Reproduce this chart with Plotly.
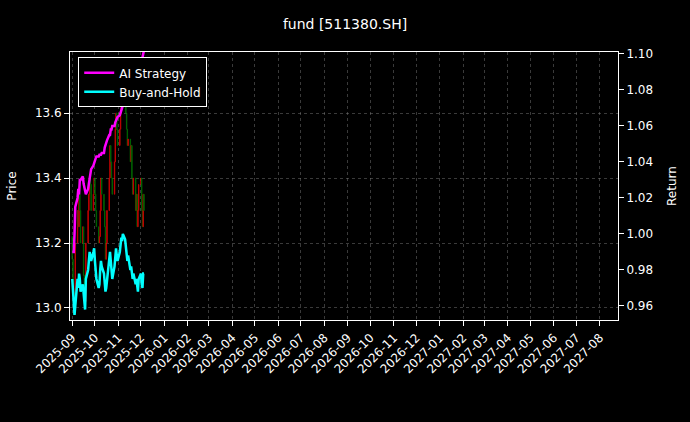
import pandas as pd
import plotly.graph_objects as go

dates = pd.bdate_range("2025-09-01", "2025-12-05")

close = [13.15, 13.05, 12.98, 13.0, 13.2, 13.3, 13.25, 13.35, 13.3, 13.2, 13.25, 13.1, 13.05, 13.02, 13.2, 13.3, 13.35, 13.4, 13.38, 13.3, 13.35, 13.4,
         13.35, 13.3, 13.25, 13.2, 13.22, 13.3, 13.4, 13.35, 13.3, 13.25, 13.15, 13.2, 13.3, 13.4, 13.5, 13.45, 13.4, 13.35, 13.45, 13.55, 13.6, 13.55, 13.5,
         13.55, 13.6, 13.65, 13.62, 13.7, 13.65, 13.6, 13.55, 13.5, 13.52, 13.45, 13.5, 13.4, 13.35, 13.4, 13.3, 13.35, 13.25, 13.3, 13.38,
         13.4, 13.3, 13.25, 13.35, 13.3]
open_ = [13.22] + close[:-1]
high = [max(o, c) for o, c in zip(open_, close)]
low = [min(o, c) for o, c in zip(open_, close)]

strategy = [0.99, 0.99, 0.99, 1.00, 1.015, 1.02, 1.025, 1.022, 1.03, 1.03, 1.032, 1.028, 1.025, 1.024, 1.022, 1.025, 1.028, 1.032, 1.035, 1.036, 1.038, 1.04,
            1.041, 1.042, 1.043, 1.043, 1.044, 1.044, 1.044, 1.045, 1.045, 1.048, 1.05, 1.05, 1.052, 1.055, 1.055, 1.058, 1.058, 1.06, 1.06, 1.062, 1.063, 1.064, 1.065,
            1.066, 1.068, 1.068, 1.07, 1.072, 1.073, 1.075, 1.076, 1.078, 1.078, 1.08, 1.082, 1.08, 1.083, 1.085, 1.087, 1.088, 1.09, 1.092, 1.093,
            1.094, 1.096, 1.098, 1.1, 1.102]
buyhold = [0.975, 0.965, 0.956, 0.955, 0.96, 0.975, 0.97, 0.978, 0.975, 0.968, 0.972, 0.965, 0.96, 0.958, 0.975, 0.98, 0.985, 0.99, 0.988, 0.985, 0.99, 0.992,
           0.985, 0.98, 0.975, 0.97, 0.972, 0.98, 0.985, 0.982, 0.978, 0.973, 0.968, 0.97, 0.975, 0.985, 0.99, 0.985, 0.98, 0.975, 0.982, 0.99, 0.992, 0.988, 0.985,
           0.99, 0.993, 0.998, 0.996, 1.0, 0.997, 0.993, 0.99, 0.985, 0.988, 0.98, 0.982, 0.977, 0.975, 0.978, 0.972, 0.975, 0.97, 0.968, 0.975,
           0.978, 0.972, 0.97, 0.978, 0.978]

fig = go.Figure()
fig.add_trace(go.Candlestick(x=dates, open=open_, high=high, low=low, close=close,
                             increasing=dict(line=dict(color="red", width=1), fillcolor="red"),
                             decreasing=dict(line=dict(color="green", width=1), fillcolor="green"),
                             opacity=0.75, showlegend=False))
fig.add_trace(go.Scatter(x=dates, y=strategy, name="AI Strategy", yaxis="y2",
                         line=dict(color="magenta", width=2.5)))
fig.add_trace(go.Scatter(x=dates, y=buyhold, name="Buy-and-Hold", yaxis="y2",
                         line=dict(color="cyan", width=2.5)))

ticks = pd.date_range("2025-09-01", "2027-08-01", freq="MS")
grid = dict(showgrid=True, gridcolor="rgba(128,128,128,0.45)", griddash="dot", gridwidth=0.6)
fig.update_layout(
    width=690, height=422, paper_bgcolor="black", plot_bgcolor="black",
    font=dict(family="DejaVu Sans", color="white", size=12),
    title=dict(text="fund [511380.SH]", x=0.5, y=0.955, xanchor="center", font=dict(size=14)),
    margin=dict(l=70, r=72, t=52, b=102),
    xaxis=dict(range=["2025-08-29", "2027-08-25"], tickvals=ticks, ticktext=[d.strftime("%Y-%m") for d in ticks],
               tickangle=-45, rangeslider=dict(visible=False), showline=True, linecolor="white", mirror=True,
               ticks="outside", tickcolor="white", zeroline=False, **grid),
    yaxis=dict(title=dict(text="Price", font=dict(size=12)), range=[12.963, 13.788], dtick=0.2, tickformat=".1f",
               showline=True, linecolor="white", mirror=True, ticks="outside", tickcolor="white", zeroline=False, **grid),
    yaxis2=dict(title=dict(text="Return", font=dict(size=12)), overlaying="y", side="right", range=[0.9522, 1.1011],
                dtick=0.02, tickformat=".2f", ticks="outside", tickcolor="white", showgrid=False, zeroline=False),
    legend=dict(x=0.015, y=0.98, xanchor="left", yanchor="top", bgcolor="black",
                bordercolor="white", borderwidth=1, font=dict(size=12)),
)
fig.write_html("out.html", config={"displayModeBar": False},
               post_script="document.body.style.margin='0';document.body.style.background='black';")
